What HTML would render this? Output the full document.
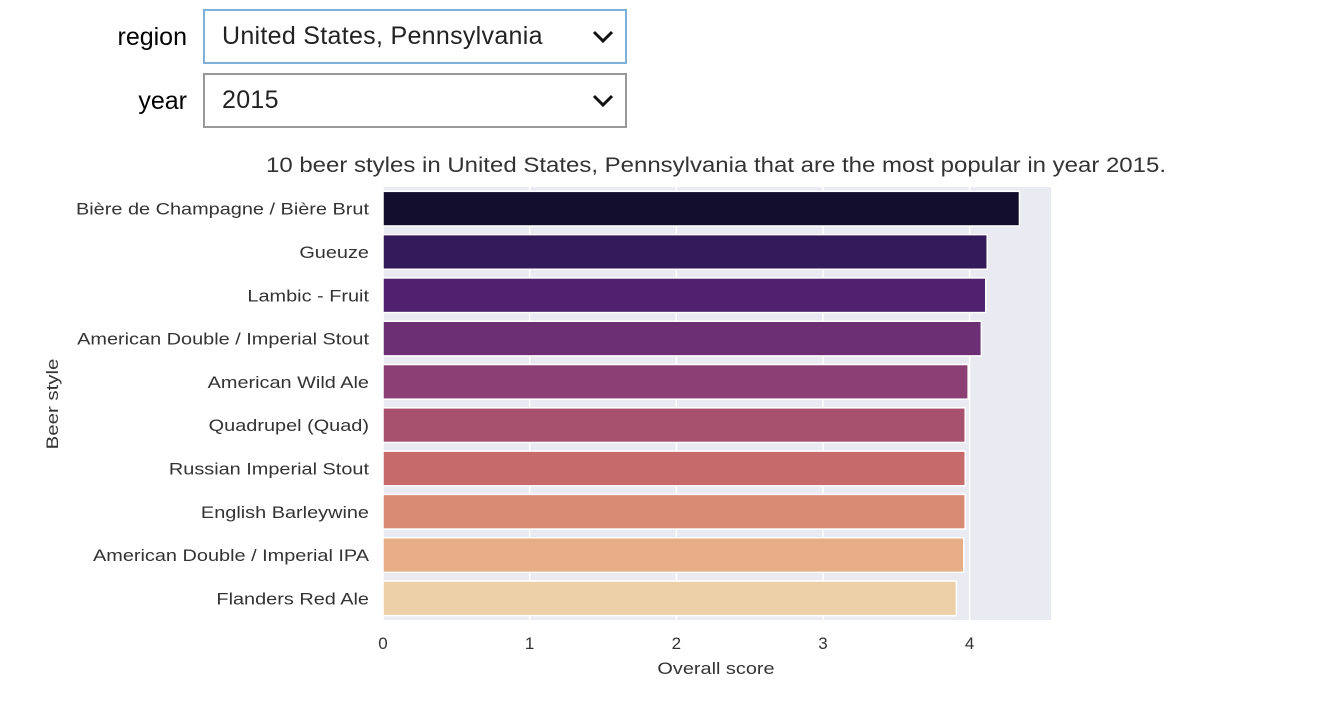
<!DOCTYPE html>
<html><head><meta charset="utf-8"><style>
body{margin:0;width:1332px;height:708px;background:#fff;font-family:"Liberation Sans",Arial,sans-serif;position:relative;overflow:hidden}
.lbl{position:absolute;font-size:25px;color:#000;text-align:right;width:90px}
.sel{position:absolute;left:203px;width:424px;height:55px;box-sizing:border-box;border:2px solid #999;font-size:25px;line-height:51px;padding-left:17px;color:#222;letter-spacing:0.3px}
.sel svg{position:absolute;right:10px;top:18px}
</style></head><body>
<div class="lbl" style="left:97px;top:23px">region</div>
<div class="sel" style="top:9px;border-color:#7fb0da">United States, Pennsylvania<svg width="24" height="16"><path d="M3 3 L12 12 L21 3" stroke="#111" stroke-width="3" fill="none"/></svg></div>
<div class="lbl" style="left:97px;top:87px">year</div>
<div class="sel" style="top:73px">2015<svg width="24" height="16"><path d="M3 3 L12 12 L21 3" stroke="#111" stroke-width="3" fill="none"/></svg></div>
<svg id="chart" width="1332" height="708" style="position:absolute;left:0;top:0"></svg>
<script>
const categories=["Bière de Champagne / Bière Brut","Gueuze","Lambic - Fruit","American Double / Imperial Stout","American Wild Ale","Quadrupel (Quad)","Russian Imperial Stout","English Barleywine","American Double / Imperial IPA","Flanders Red Ale"];
const scores=[4.34,4.12,4.11,4.08,3.99,3.97,3.97,3.97,3.96,3.91];
const colors=["#140e2e","#331a5a","#4f216e","#6c2f73","#8b3f74","#a7516f","#c66a6c","#d98a73","#e6ad86","#ecd1a8"];
const xTicks=[0,1,2,3,4];
const NS="http://www.w3.org/2000/svg";
const svg=document.getElementById('chart');
const L=383,R=1051,T=187,B=620,xMax=4.555;
const x=v=>L+(v/xMax)*(R-L);
const band=(B-T)/categories.length;
const y=i=>T+i*band;
function mk(t,a){const e=document.createElementNS(NS,t);for(const k in a)e.setAttribute(k,a[k]);svg.appendChild(e);return e;}
function widen(e,k){const w=e.getComputedTextLength();e.setAttribute('textLength',w*k);e.setAttribute('lengthAdjust','spacingAndGlyphs');}
let bg=mk('rect',{x:L,y:T,width:R-L,height:B-T,fill:'#eaeaf2'});


xTicks.forEach(t=>{
 let g=mk('line',{x1:x(t),x2:x(t),y1:T,y2:B,stroke:'#fff','stroke-width':1.5});
 
 
 let tl=mk('text',{x:x(t),y:649,'text-anchor':'middle','font-size':17,fill:'#333'});
 tl.textContent=t;
 
 
});
categories.forEach((c,i)=>{
 let r=mk('rect',{x:L,y:y(i)+band*0.1,width:x(scores[i])-L,height:band*0.8,fill:colors[i],stroke:'#fff','stroke-width':1.5});
 
 
 let t=mk('text',{x:369,y:y(i)+band/2+6,'text-anchor':'end','font-size':17,fill:'#333'});
 t.textContent=c;
 
 
 widen(t,1.17);
});
let ti=mk('text',{x:716,y:172,'text-anchor':'middle','font-size':21,fill:'#333'});
ti.textContent="10 beer styles in United States, Pennsylvania that are the most popular in year 2015.";


ti.setAttribute('textLength',900);
ti.setAttribute('lengthAdjust','spacingAndGlyphs');
let xt=mk('text',{x:716,y:674,'text-anchor':'middle','font-size':17,fill:'#333'});
xt.textContent="Overall score";


widen(xt,1.17);
let yt=mk('text',{x:58,y:404,'text-anchor':'middle','font-size':17,fill:'#333',transform:'rotate(-90 58 404)'});
yt.textContent="Beer style";


widen(yt,1.2);
</script>
</body></html>
